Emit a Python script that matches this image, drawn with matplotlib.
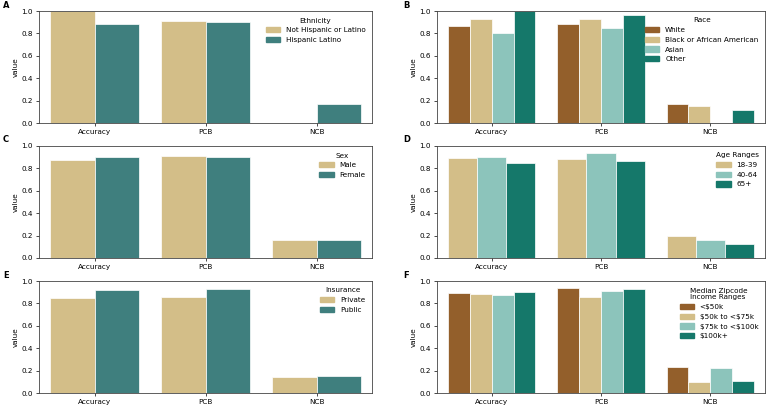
import numpy as np
import matplotlib
matplotlib.use('Agg')
import matplotlib.pyplot as plt

matplotlib.rcParams['font.family'] = 'DejaVu Sans'
matplotlib.rcParams['font.size'] = 5.2

metrics = ['Accuracy', 'PCB', 'NCB']

# A - Ethnicity
eth_groups = ['Not Hispanic or Latino', 'Hispanic Latino']
eth_vals = [[1.0, 0.915, np.nan],
            [0.885, 0.905, 0.17]]

# B - Race
race_groups = ['White', 'Black or African American', 'Asian', 'Other']
race_vals = [[0.865, 0.885, 0.17],
             [0.93, 0.93, 0.15],
             [0.80, 0.845, np.nan],
             [1.0, 0.965, 0.115]]

# C - Sex
sex_groups = ['Male', 'Female']
sex_vals = [[0.875, 0.915, 0.165],
            [0.90, 0.90, 0.16]]

# D - Age
age_groups = ['18-39', '40-64', '65+']
age_vals = [[0.89, 0.885, 0.195],
            [0.90, 0.935, 0.165],
            [0.85, 0.865, 0.125]]

# E - Insurance
ins_groups = ['Private', 'Public']
ins_vals = [[0.85, 0.855, 0.145],
            [0.92, 0.93, 0.155]]

# F - Income
inc_groups = [r'<\$50k', r'\$50k to <\$75k', r'\$75k to <\$100k', r'\$100k+']
inc_vals = [[0.895, 0.935, 0.23],
            [0.88, 0.86, 0.095],
            [0.875, 0.91, 0.225],
            [0.90, 0.925, 0.105]]

BROWN = '#935f2b'
TAN = '#d3be88'
TEAL = '#3f7f7e'
LTEAL = '#8cc4bb'
DTEAL = '#15786a'

panels = [
    ('A', 'Ethnicity', eth_groups, eth_vals, [TAN, TEAL]),
    ('B', 'Race', race_groups, race_vals, [BROWN, TAN, LTEAL, DTEAL]),
    ('C', 'Sex', sex_groups, sex_vals, [TAN, TEAL]),
    ('D', 'Age Ranges', age_groups, age_vals, [TAN, LTEAL, DTEAL]),
    ('E', 'Insurance', ins_groups, ins_vals, [TAN, TEAL]),
    ('F', 'Median Zipcode\nIncome Ranges', inc_groups, inc_vals, [BROWN, TAN, LTEAL, DTEAL]),
]

fig = plt.figure(figsize=(7.71, 4.05), dpi=100)

lefts = [39 / 771, 437 / 771]
widths = [333 / 771, 328 / 771]
bottoms = [1 - 123 / 405, 1 - 258 / 405, 1 - 393 / 405]
h = 112 / 405

x = np.arange(len(metrics))
for i, (letter, title, groups, vals, colors) in enumerate(panels):
    r, c = divmod(i, 2)
    ax = fig.add_axes([lefts[c], bottoms[r], widths[c], h])
    n = len(groups)
    w = 0.8 / n
    handles = []
    for j, (g, v) in enumerate(zip(groups, vals)):
        ax.bar(x - 0.4 + w * (j + 0.5), v, w, color=colors[j],
               edgecolor='white', linewidth=0.5)
        handles.append(plt.Rectangle((0, 0), 1, 1, color=colors[j], label=g))
    ax.set_xlim(-0.5, 2.5)
    ax.set_ylim(0, 1.0)
    ax.set_xticks(x)
    ax.set_xticklabels(metrics)
    ax.set_ylabel('value', labelpad=2)
    ax.tick_params(length=2.5, width=0.5, pad=2)
    for s in ax.spines.values():
        s.set_linewidth(0.6)
        s.set_color('#444444')
    leg = ax.legend(handles=handles, title=title, frameon=False, loc='upper right',
                    fontsize=5.2, title_fontsize=5.2, labelspacing=0.5)
    leg._legend_box.align = 'center'
    fig.text(3 / 771 if c == 0 else 403 / 771, bottoms[r] + h + 6 / 405,
             letter, fontweight='bold', fontsize=6, va='center')

fig.savefig('out.png', dpi=100)
